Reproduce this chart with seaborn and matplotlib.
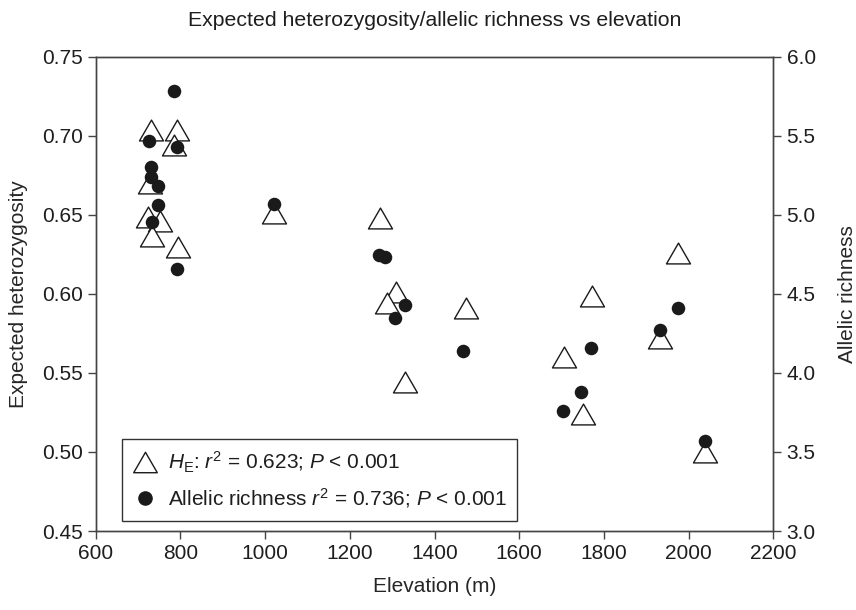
import numpy as np
import pandas as pd
import matplotlib
matplotlib.use("Agg")
import matplotlib.pyplot as plt
import seaborn as sns
from matplotlib.lines import Line2D
from matplotlib.path import Path

# expected heterozygosity (triangles, left axis)
he_elev = [730, 793, 785, 729, 724, 752, 734, 795, 1021, 1271, 1309, 1287,
           1474, 1331, 1976, 1773, 1932, 1706, 1750, 2039]
he_vals = [0.704, 0.704, 0.694, 0.670, 0.649, 0.646, 0.637, 0.630, 0.651, 0.648,
           0.601, 0.594, 0.591, 0.544, 0.626, 0.599, 0.572, 0.560, 0.524, 0.500]

# allelic richness (dots, right axis)
ar_elev = [785, 725, 791, 731, 731, 748, 746, 732, 793, 1021, 1270, 1283,
           1330, 1307, 1468, 1976, 1932, 1769, 1745, 1704, 2039]
ar_vals = [5.785, 5.468, 5.432, 5.302, 5.242, 5.185, 5.063, 4.958, 4.658, 5.07,
           4.747, 4.732, 4.430, 4.346, 4.141, 4.409, 4.272, 4.156, 3.882, 3.759, 3.570]

x_ticks = [600, 800, 1000, 1200, 1400, 1600, 1800, 2000, 2200]
left_ticks = [0.45, 0.50, 0.55, 0.60, 0.65, 0.70, 0.75]
right_ticks = [3.0, 3.5, 4.0, 4.5, 5.0, 5.5, 6.0]

he_label = r'$\mathit{H}_{\mathrm{E}}$: $\mathit{r}^2$ = 0.623; $\mathit{P}$ < 0.001'
ar_label = r'Allelic richness $\mathit{r}^2$ = 0.736; $\mathit{P}$ < 0.001'

sns.set_style("ticks")
plt.rcParams['font.family'] = ['Liberation Sans', 'DejaVu Sans']
plt.rcParams['mathtext.fontset'] = 'custom'
plt.rcParams['mathtext.rm'] = 'Liberation Sans'
plt.rcParams['mathtext.it'] = 'Liberation Sans:italic'
plt.rcParams['text.color'] = '#1e1e1e'

ink = '#1a1a1a'
tri = Path([(-1, -0.866), (1, -0.866), (0, 0.866), (-1, -0.866)], closed=True)

fig = plt.figure(figsize=(8.56, 6.10), dpi=100)
ax = fig.add_axes([0.1118, 0.1295, 0.7916, 0.7771])
ax2 = ax.twinx()

df_he = pd.DataFrame({'Elevation': he_elev, 'HE': he_vals})
df_ar = pd.DataFrame({'Elevation': ar_elev, 'AR': ar_vals})

sns.scatterplot(data=df_he, x='Elevation', y='HE', ax=ax, marker=tri, s=300,
                facecolor='white', edgecolor=ink, linewidth=1.0, legend=False)
sns.scatterplot(data=df_ar, x='Elevation', y='AR', ax=ax2, marker='o', s=95,
                color=ink, edgecolor=ink, linewidth=0, legend=False)

ax.set_xlim(600, 2200)
ax.set_ylim(0.45, 0.75)
ax2.set_ylim(3.0, 6.0)
ax.set_xticks(x_ticks)
ax.set_yticks(left_ticks)
ax2.set_yticks(right_ticks)
ax.set_yticklabels([f"{v:.2f}" for v in left_ticks])
ax2.set_yticklabels([f"{v:.1f}" for v in right_ticks])

fs = 15
for a in (ax, ax2):
    a.tick_params(labelsize=fs, length=6, width=1.0, color='#444444', labelcolor='#1e1e1e')
    for sp in a.spines.values():
        sp.set_visible(True)
        sp.set_color('#444444')
        sp.set_linewidth(1.0)

ax.set_xlabel("Elevation (m)", fontsize=fs, labelpad=10)
ax.set_ylabel("Expected heterozygosity", fontsize=fs, labelpad=10)
ax2.set_ylabel("Allelic richness", fontsize=fs, labelpad=16)
ax.set_title("Expected heterozygosity/allelic richness vs elevation", fontsize=15.3, pad=22)

handles = [
    Line2D([], [], linestyle='none', marker=tri, markersize=17, markerfacecolor='white',
           markeredgecolor=ink, markeredgewidth=1.0),
    Line2D([], [], linestyle='none', marker='o', markersize=9.5, markerfacecolor=ink,
           markeredgecolor=ink),
]
leg = ax2.legend(handles, [he_label, ar_label], loc='lower left',
                 bbox_to_anchor=(0.039, 0.022), borderaxespad=0, fontsize=fs,
                 frameon=True, fancybox=False, handletextpad=0.5, handlelength=1.2,
                 labelspacing=0.55, borderpad=0.5)
leg.get_frame().set_edgecolor('#333333')
leg.get_frame().set_linewidth(1.0)
leg.get_frame().set_alpha(1)

fig.savefig("out.png", dpi=100)
